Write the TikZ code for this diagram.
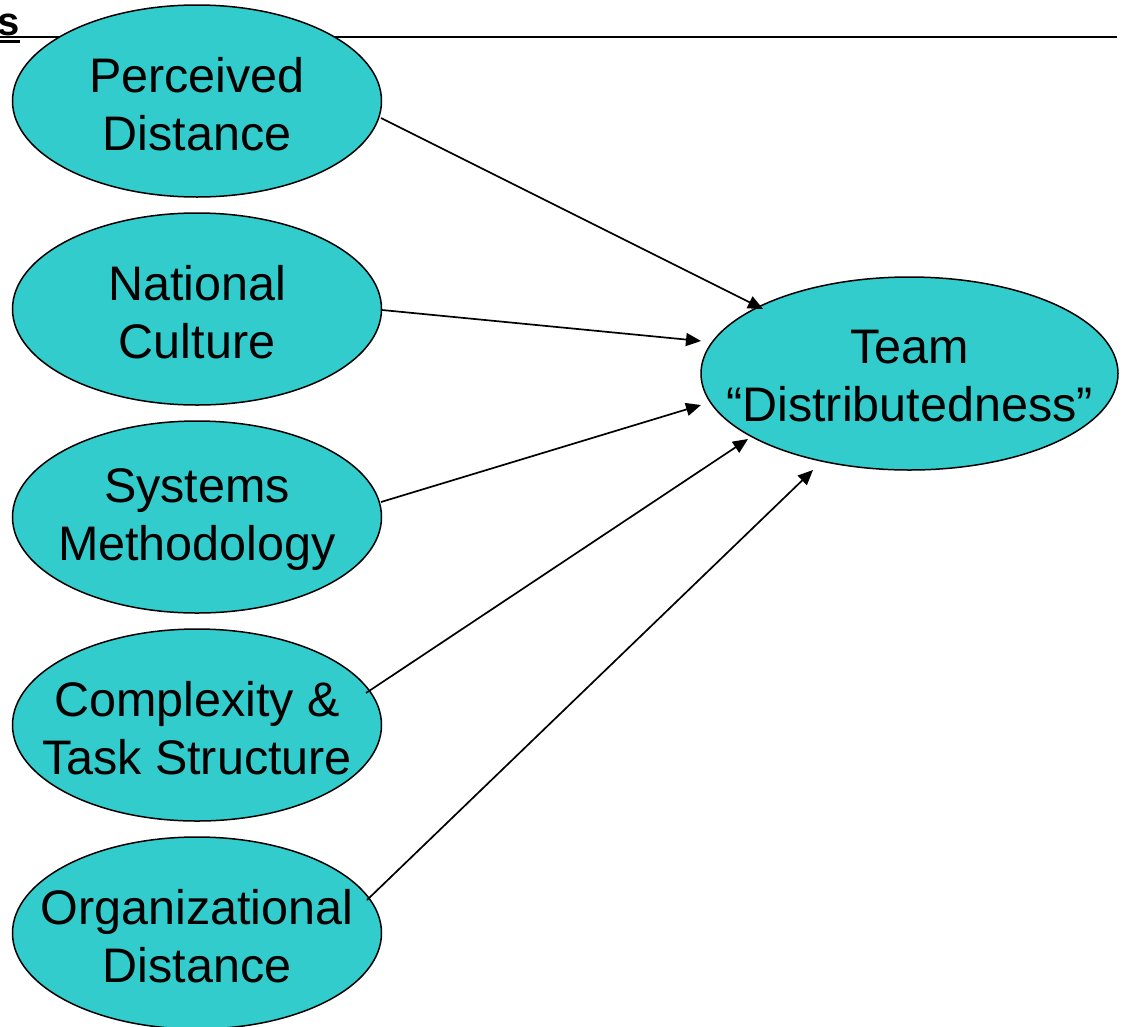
\documentclass[tikz,border=0pt]{standalone}
\usepackage{fontspec}
\setmainfont{Liberation Sans}
\usetikzlibrary{shapes.geometric,arrows.meta,calc}
\definecolor{bubble}{RGB}{51,204,204}
\begin{document}
\begin{tikzpicture}[x=1pt,y=-1pt,
  factor/.style={ellipse,draw=black,line width=1.5pt,fill=bubble,inner sep=0pt,
    minimum width=369pt,minimum height=192pt},
  caption/.style={align=center,yshift=-3pt,font=\fontsize{48.5}{58}\selectfont},
  arr/.style={line width=1.7pt,-{Triangle[length=15pt,width=13pt]}}]
\useasboundingbox (0,0) rectangle (1123,1026);

% heading rule and clipped heading text
\node[inner sep=0pt,anchor=base west,font=\bfseries\fontsize{40}{48}\selectfont] (head) at (-3,35) {s};
\draw[line width=2pt] (head.base west |- 0,37) -- (1117,37);
\draw[line width=3pt] (0,41.5) -- (20,41.5);

% causal factors
\node[factor] (pd) at (197,101) {};
\node[caption] (pdt) at (pd.center) {Perceived\\Distance};
\node[factor] (nc) at (197,309) {};
\node[caption] (nct) at (nc.center) {National\\Culture};
\node[factor] (sm) at (197,517) {};
\node[caption] (smt) at (sm.center) {Systems\\Methodology};
\node[factor] (ct) at (197,725) {};
\node[caption] (ctt) at (ct.center) {Complexity \&\\Task Structure};
\node[factor] (od) at (197,933) {};
\node[caption] (odt) at (od.center) {Organizational\\Distance};

% outcome
\node[factor,minimum width=417pt,minimum height=193pt] (team) at (909.5,373.5) {};
\node[caption] (teamt) at (team.center) {Team\\“Distributedness”};

% influences
\draw[arr] ($(pd.center)+(184,17)$) -- ($(team.center)+(-146.5,-64.5)$);
\draw[arr] ($(nc.center)+(185,1)$) -- ($(team.center)+(-208.5,-32.5)$);
\draw[arr] ($(sm.center)+(184,-15)$) -- ($(team.center)+(-208.5,31.5)$);
\draw[arr] ($(ct.center)+(169,-32)$) -- ($(team.center)+(-161.5,65.5)$);
\draw[arr] ($(od.center)+(170,-33)$) -- ($(team.center)+(-96.5,96.5)$);
\end{tikzpicture}
\end{document}
